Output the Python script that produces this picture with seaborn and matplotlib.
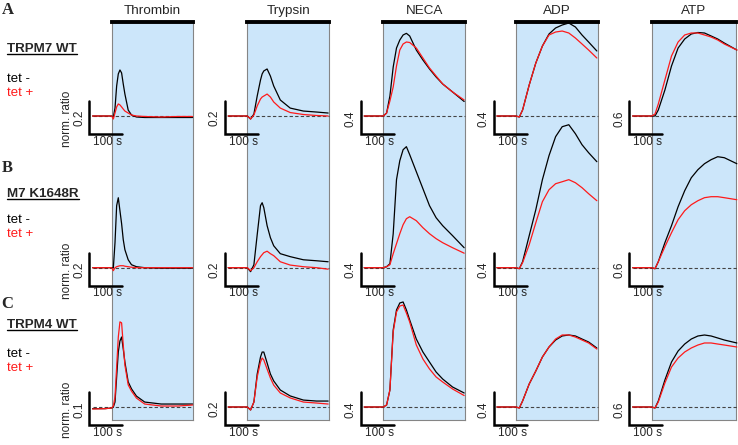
import pandas as pd
import matplotlib
matplotlib.use('Agg')
import matplotlib.pyplot as plt
from matplotlib.lines import Line2D
import seaborn as sns

# ==========================================
# DATA  (time in s, stimulus added at t = 0;
#        traces = change of normalized ratio, baseline 0)
# ==========================================
STIMULI = ['Thrombin', 'Trypsin', 'NECA', 'ADP', 'ATP']
ROW_LETTERS = ['A', 'B', 'C']
ROW_NAMES = ['TRPM7 WT', 'M7 K1648R', 'TRPM4 WT']
COND_LABELS = ['tet -', 'tet +']

# vertical scale bar value for every panel (rows A, B, C)
SCALE_A = [0.2, 0.2, 0.4, 0.4, 0.6]
SCALE_B = [0.2, 0.2, 0.4, 0.4, 0.6]
SCALE_C = [0.1, 0.2, 0.4, 0.4, 0.6]
SCALE_TIME = 100  # s

T_THROMBIN = [-58, -20, 0, 5, 10, 15, 20, 25, 30, 35, 40, 50, 60, 75, 100, 150, 200, 245]
T_TRYPSIN = [-58, -20, 0, 10, 20, 30, 40, 45, 50, 60, 70, 80, 100, 130, 170, 210, 245]
T_NECA = [-58, -20, 0, 10, 20, 30, 40, 50, 60, 70, 80, 100, 120, 140, 160, 180, 210, 245]
T_ADP = [-58, -20, 0, 10, 20, 40, 60, 80, 100, 120, 140, 160, 180, 200, 220, 245]
T_ATP = [-58, -20, 0, 10, 20, 40, 60, 80, 100, 120, 140, 160, 180, 200, 220, 258]

# Row A: TRPM7 WT
A_THROMBIN_NEG = [0, 0, 0, -0.006, 0.048, 0.182, 0.255, 0.279, 0.261, 0.194, 0.133, 0.036, 0.006, -0.006, -0.009, -0.009, -0.009, -0.009]
A_THROMBIN_POS = [0, 0, 0, -0.018, 0.018, 0.055, 0.073, 0.067, 0.055, 0.042, 0.030, 0.018, 0.006, 0, -0.003, -0.006, -0.003, -0.003]
A_TRYPSIN_NEG = [0, 0, 0, -0.018, 0.012, 0.121, 0.218, 0.255, 0.273, 0.285, 0.242, 0.182, 0.097, 0.048, 0.030, 0.024, 0.018]
A_TRYPSIN_POS = [0, 0, 0, -0.018, 0.006, 0.061, 0.103, 0.115, 0.121, 0.133, 0.115, 0.085, 0.048, 0.021, 0.009, 0.003, 0]
A_NECA_NEG = [0, 0, 0, 0.036, 0.242, 0.594, 0.824, 0.921, 0.982, 1.002, 0.970, 0.800, 0.679, 0.570, 0.473, 0.388, 0.291, 0.176]
A_NECA_POS = [0, 0, 0, 0.036, 0.182, 0.352, 0.606, 0.800, 0.873, 0.897, 0.891, 0.824, 0.703, 0.582, 0.485, 0.388, 0.291, 0.194]
A_ADP_NEG = [0, 0, 0, -0.012, 0.073, 0.376, 0.642, 0.848, 0.994, 1.067, 1.103, 1.127, 1.079, 0.982, 0.897, 0.788]
A_ADP_POS = [0, 0, 0, -0.012, 0.073, 0.376, 0.642, 0.848, 0.982, 1.018, 1.030, 1.006, 0.945, 0.873, 0.800, 0.703]
A_ATP_NEG = [0, 0, 0, 0, 0.109, 0.473, 0.909, 1.236, 1.400, 1.491, 1.518, 1.509, 1.455, 1.400, 1.327, 1.200]
A_ATP_POS = [0, 0, 0, 0.036, 0.218, 0.655, 1.091, 1.345, 1.473, 1.509, 1.509, 1.473, 1.436, 1.382, 1.309, 1.200]

# Row B: M7 K1648R
B_THROMBIN_NEG = [0, 0, 0, 0, 0.152, 0.376, 0.424, 0.345, 0.267, 0.170, 0.109, 0.048, 0.018, 0.006, 0, -0.003, -0.003, -0.003]
B_THROMBIN_POS = [0, 0, 0, -0.018, 0, 0.006, 0.009, 0.012, 0.012, 0.012, 0.009, 0.006, 0.003, 0, 0, 0, 0, 0]
B_TRYPSIN_NEG = [0, 0, 0, -0.024, 0.018, 0.200, 0.376, 0.394, 0.364, 0.255, 0.182, 0.133, 0.085, 0.067, 0.048, 0.042, 0.036]
B_TRYPSIN_POS = [0, 0, 0, -0.018, 0, 0.036, 0.067, 0.079, 0.091, 0.100, 0.085, 0.073, 0.036, 0.016, 0.006, 0, -0.009]
B_NECA_NEG = [0, 0, 0, 0.012, 0.048, 0.412, 1.067, 1.297, 1.430, 1.467, 1.370, 1.164, 0.958, 0.752, 0.606, 0.509, 0.388, 0.242]
B_NECA_POS = [0, 0, 0, 0.012, 0.036, 0.170, 0.291, 0.412, 0.521, 0.594, 0.618, 0.570, 0.485, 0.412, 0.352, 0.303, 0.242, 0.176]
B_ADP_NEG = [0, 0, 0, -0.012, 0.073, 0.388, 0.703, 1.067, 1.358, 1.588, 1.709, 1.733, 1.624, 1.491, 1.394, 1.285]
B_ADP_POS = [0, 0, 0, -0.012, 0.061, 0.279, 0.545, 0.800, 0.945, 1.018, 1.042, 1.067, 1.030, 0.970, 0.897, 0.812]
B_ATP_NEG = [0, 0, 0, -0.018, 0.109, 0.455, 0.764, 1.109, 1.400, 1.636, 1.782, 1.891, 1.964, 2.018, 2.000, 1.891]
B_ATP_POS = [0, 0, 0, -0.018, 0.109, 0.382, 0.636, 0.873, 1.036, 1.145, 1.218, 1.273, 1.291, 1.291, 1.273, 1.236]

# Row C: TRPM4 WT
C_THROMBIN_NEG = [-0.005, -0.005, -0.003, 0, 0.015, 0.091, 0.167, 0.200, 0.212, 0.176, 0.136, 0.076, 0.055, 0.033, 0.015, 0.009, 0.009, 0.009]
C_THROMBIN_POS = [-0.006, -0.005, -0.003, 0.003, 0.030, 0.121, 0.212, 0.258, 0.255, 0.188, 0.127, 0.067, 0.048, 0.027, 0.009, 0.003, 0.003, 0.006]
C_TRYPSIN_NEG = [0, 0, 0, -0.018, 0.030, 0.200, 0.303, 0.333, 0.333, 0.267, 0.200, 0.158, 0.103, 0.067, 0.042, 0.036, 0.036]
C_TRYPSIN_POS = [0, 0, 0, -0.018, 0.030, 0.182, 0.273, 0.297, 0.285, 0.230, 0.176, 0.133, 0.085, 0.055, 0.030, 0.024, 0.018]
C_NECA_NEG = [0, 0, 0, 0.024, 0.206, 0.933, 1.176, 1.261, 1.273, 1.176, 1.055, 0.824, 0.667, 0.545, 0.424, 0.339, 0.242, 0.170]
C_NECA_POS = [0, 0, 0, 0.024, 0.206, 0.909, 1.152, 1.224, 1.236, 1.139, 1.030, 0.752, 0.582, 0.461, 0.364, 0.303, 0.218, 0.139]
C_ADP_NEG = [0, 0, 0, -0.012, 0.073, 0.279, 0.436, 0.606, 0.727, 0.812, 0.861, 0.873, 0.861, 0.824, 0.788, 0.715]
C_ADP_POS = [0, 0, 0, -0.012, 0.073, 0.279, 0.436, 0.606, 0.727, 0.824, 0.873, 0.873, 0.848, 0.812, 0.776, 0.703]
C_ATP_NEG = [0, 0, 0, -0.018, 0.109, 0.491, 0.818, 1.018, 1.145, 1.236, 1.291, 1.309, 1.291, 1.255, 1.218, 1.164]
C_ATP_POS = [0, 0, 0, -0.018, 0.091, 0.436, 0.727, 0.891, 1.000, 1.073, 1.127, 1.164, 1.164, 1.145, 1.127, 1.091]

TIMES = [T_THROMBIN, T_TRYPSIN, T_NECA, T_ADP, T_ATP]
TRACES = [
    [(A_THROMBIN_NEG, A_THROMBIN_POS), (A_TRYPSIN_NEG, A_TRYPSIN_POS), (A_NECA_NEG, A_NECA_POS),
     (A_ADP_NEG, A_ADP_POS), (A_ATP_NEG, A_ATP_POS)],
    [(B_THROMBIN_NEG, B_THROMBIN_POS), (B_TRYPSIN_NEG, B_TRYPSIN_POS), (B_NECA_NEG, B_NECA_POS),
     (B_ADP_NEG, B_ADP_POS), (B_ATP_NEG, B_ATP_POS)],
    [(C_THROMBIN_NEG, C_THROMBIN_POS), (C_TRYPSIN_NEG, C_TRYPSIN_POS), (C_NECA_NEG, C_NECA_POS),
     (C_ADP_NEG, C_ADP_POS), (C_ATP_NEG, C_ATP_POS)],
]
SCALES = [SCALE_A, SCALE_B, SCALE_C]

# ==========================================
# LAYOUT (pixels of the 738x445 canvas)
# ==========================================
W, H = 738, 445
STIM_PX = [111.7, 247.3, 383.3, 516.0, 651.7]
BLUE_RIGHT_PX = [193.0, 329.3, 465.0, 598.3, 736.0]
BLUE_TOP_PX, BLUE_BOTTOM_PX = 22, 420
BASELINE_PX = [116, 267.7, 407]
PX_PER_S = 0.33
PX_PER_SCALE = 33.0
X_MIN, X_MAX = -150, 265

LETTER_Y = [13.5, 171.5, 308]
NAME_Y = [52.5, 197.3, 328.3]
TET_NEG_Y = [82.5, 223.3, 356.7]
TET_POS_Y = [96.3, 237.2, 371.3]

BLUE = '#cce6fa'
PALETTE = {'tet -': 'black', 'tet +': '#ff1a1a'}

sns.set_style('white')
plt.rcParams['font.family'] = ['Liberation Sans', 'DejaVu Sans']


def px_box(left, top, right, bottom):
    return [left / W, 1 - bottom / H, (right - left) / W, (bottom - top) / H]


fig = plt.figure(figsize=(W / 100, H / 100), dpi=100)

# stimulus windows (blue boxes with black bar on top)
for j, name in enumerate(STIMULI):
    bg = fig.add_axes(px_box(STIM_PX[j], BLUE_TOP_PX, BLUE_RIGHT_PX[j], BLUE_BOTTOM_PX), zorder=0)
    bg.set_facecolor(BLUE)
    bg.set_xticks([])
    bg.set_yticks([])
    for sp in bg.spines.values():
        sp.set_color('#858585')
        sp.set_linewidth(0.8)
    bg.spines['top'].set_color('black')
    bg.spines['top'].set_linewidth(2.8)
    fig.text((STIM_PX[j] + BLUE_RIGHT_PX[j]) / 2 / W, 1 - 11 / H, name,
             ha='center', va='center', fontsize=9.7)

# traces
for i in range(3):
    for j in range(5):
        s = SCALES[i][j]
        base = BASELINE_PX[i]
        ax = fig.add_axes(px_box(STIM_PX[j] + X_MIN * PX_PER_S, base - 150,
                                 STIM_PX[j] + X_MAX * PX_PER_S, base + 35), zorder=2)
        t = TIMES[j]
        neg, pos = TRACES[i][j]
        df = pd.DataFrame({
            'Time': t + t,
            'Ratio': neg + pos,
            'Condition': [COND_LABELS[0]] * len(t) + [COND_LABELS[1]] * len(t),
        })
        t_end = max(t[-1], (BLUE_RIGHT_PX[j] - STIM_PX[j]) / PX_PER_S)
        ax.hlines(0, t[0], t_end, colors='#444444', linestyles=(0, (3, 2)), linewidth=0.8)
        sns.lineplot(data=df, x='Time', y='Ratio', hue='Condition', palette=PALETTE,
                     hue_order=COND_LABELS, estimator=None, sort=False, linewidth=0.9,
                     legend=False, ax=ax)

        # scale bars
        bar_x = -68
        bar_lo, bar_hi = -0.55 * s, 0.45 * s
        ax.plot([bar_x, bar_x, bar_x + SCALE_TIME], [bar_hi, bar_lo, bar_lo],
                color='black', linewidth=1.8, solid_joinstyle='miter', clip_on=False)
        ax.text(bar_x - 10 / PX_PER_S, -0.07 * s, f'{s:g}', rotation=90,
                ha='center', va='center', fontsize=8.5)
        ax.text(bar_x + 4 / PX_PER_S, bar_lo - 1.5 / PX_PER_SCALE * s, f'{SCALE_TIME} s',
                ha='left', va='top', fontsize=8.5)
        if j == 0:
            ax.text(bar_x - 67, -0.1 * s, 'norm. ratio', rotation=90,
                    ha='center', va='center', fontsize=8.5)

        ax.set_xlim(X_MIN, X_MAX)
        ax.set_ylim(-35 / PX_PER_SCALE * s, 150 / PX_PER_SCALE * s)
        ax.axis('off')

# row labels
name_texts = []
for i in range(3):
    fig.text(1.5 / W, 1 - LETTER_Y[i] / H, ROW_LETTERS[i], ha='left', va='baseline',
             fontsize=12, fontweight='bold', family='Liberation Serif')
    nt = fig.text(7.3 / W, 1 - NAME_Y[i] / H, ROW_NAMES[i], ha='left', va='baseline',
                  fontsize=9.6, fontweight='bold')
    name_texts.append((nt, NAME_Y[i]))
    fig.text(7.3 / W, 1 - TET_NEG_Y[i] / H, COND_LABELS[0], ha='left', va='baseline',
             fontsize=9.5, color='black')
    fig.text(7.3 / W, 1 - TET_POS_Y[i] / H, COND_LABELS[1], ha='left', va='baseline',
             fontsize=9.5, color=PALETTE['tet +'])

# underline the construct names
fig.canvas.draw()
for nt, y in name_texts:
    bb = nt.get_window_extent()
    yy = 1 - (y + 1.3) / H
    fig.add_artist(Line2D([bb.x0 / W, bb.x1 / W], [yy, yy], transform=fig.transFigure,
                          color='black', linewidth=1.0))

fig.savefig('out.png', dpi=100)
